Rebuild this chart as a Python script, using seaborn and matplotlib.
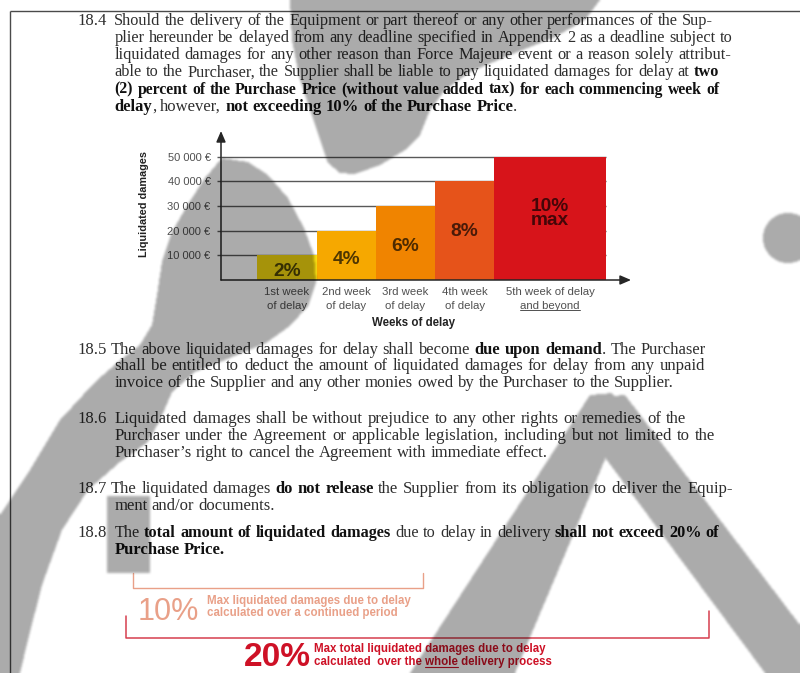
import numpy as np
import pandas as pd
import matplotlib
matplotlib.use("Agg")
import matplotlib.pyplot as plt
from matplotlib.path import Path
import seaborn as sns

# ---------------- chart data ----------------
week_labels = ["1st week\nof delay", "2nd week\nof delay", "3rd week\nof delay",
               "4th week\nof delay", "5th week of delay\nand beyond"]
week_start = [1, 2, 3, 4, 5]
damages = [10000, 20000, 30000, 40000, 50000]
rate_labels = ["2%", "4%", "6%", "8%", "10%\nmax"]
y_ticks = [10000, 20000, 30000, 40000, 50000]
y_tick_labels = ["10 000 €", "20 000 €", "30 000 €", "40 000 €", "50 000 €"]

# ---------------- contract text ----------------
clause_numbers = ["18.4", "18.5", "18.6", "18.7", "18.8"]
clause_lines = [
    ["Should the delivery of the Equipment or part thereof or any other performances of the Sup-",
     "plier hereunder be delayed from any deadline specified in Appendix 2 as a deadline subject to",
     "liquidated damages for any other reason than Force Majeure event or a reason solely attribut-",
     "able to the Purchaser, the Supplier shall be liable to pay liquidated damages for delay at **two**",
     "**(2) percent of the Purchase Price (without value added tax) for each commencing week of**",
     "**delay**, however, **not exceeding 10% of the Purchase Price**."],
    ["The above liquidated damages for delay shall become **due upon demand**. The Purchaser",
     "shall be entitled to deduct the amount of liquidated damages for delay from any unpaid",
     "invoice of the Supplier and any other monies owed by the Purchaser to the Supplier."],
    ["Liquidated damages shall be without prejudice to any other rights or remedies of the",
     "Purchaser under the Agreement or applicable legislation, including but not limited to the",
     "Purchaser\u2019s right to cancel the Agreement with immediate effect."],
    ["The liquidated damages **do not release** the Supplier from its obligation to deliver the Equip-",
     "ment and/or documents."],
    ["The **total amount of liquidated damages** due to delay in delivery **shall not exceed 20% of**",
     "**Purchase Price.**"],
]
cap_10_big = "10%"
cap_10_text = ["Max liquidated damages due to delay", "calculated over a continued period"]
cap_20_big = "20%"
cap_20_text = ["Max total liquidated damages due to delay", "calculated  over the whole delivery process"]

# ---------------- layout & style ----------------
W, H, DPI = 800, 673, 100
bar_colors = ["#F8DC10", "#F6A800", "#F08400", "#E6531A", "#D7141A"]
bin_edges = [1, 2, 3, 4, 5, 6.88]
label_pos = [0.33, 0.42, 0.45, 0.49, 0.54]          # label height as share of bar
# (x start, x end, baseline) in pixels; x end is the natural end for closing lines
clause_layout = [
    [(114.3, 713.0, 24.7), (114.3, 732.7, 41.9), (114.3, 731.7, 59.1),
     (114.3, 719.3, 76.3), (114.3, 719.3, 93.6), (114.3, 499.3, 110.9)],
    [(111.0, 706.0, 353.7), (114.3, 705.0, 370.5), (114.3, 679.0, 387.2)],
    [(115.0, 686.0, 423.0), (114.3, 715.0, 439.8), (114.3, 546.7, 456.6)],
    [(111.0, 732.7, 492.7), (114.3, 283.3, 509.5)],
    [(114.3, 719.3, 537.0), (114.3, 220.7, 553.8)],
]
number_x = 77.3
SERIF = "Liberation Serif"
SANS = "Liberation Sans"
REG_COLOR = "#2e2e2e"
BOLD_COLOR = "#111111"
SALMON = "#E9A088"
CRIMSON = "#D63E4E"
RED = "#CE1126"

# translucent grey stamp shapes laid over the page (pixel outlines)
stamp_polys = [
    [(290, 0), (600, 0), (585, 20), (555, 37), (510, 55), (470, 72), (445, 90),
     (430, 110), (420, 135), (405, 150), (380, 165), (355, 174), (340, 173),
     (328, 163), (320, 140), (312, 115), (300, 80), (292, 40)],
    [(222, 158), (248, 162), (268, 175), (288, 198), (304, 228), (314, 255),
     (316, 282), (308, 306), (290, 326), (266, 343), (225, 360), (195, 372),
     (172, 392), (160, 420), (148, 442), (120, 462), (88, 490), (62, 530),
     (42, 585), (28, 640), (20, 673), (0, 673), (0, 515), (30, 470), (60, 420),
     (95, 382), (118, 362), (140, 345), (152, 325), (157, 295), (162, 262),
     (172, 232), (188, 204), (205, 178)],
    [(107, 496), (150, 496), (150, 573), (107, 573)],
    [(410, 673), (515, 673), (625, 412), (612, 393), (590, 395)],
    [(590, 398), (625, 395), (800, 625), (800, 673), (765, 673), (583, 428)],
]
stamp_dot = (788, 238, 25)

sns.set_theme(style="white")
plt.rcParams["font.family"] = [SANS, "DejaVu Sans"]

fig = plt.figure(figsize=(W / DPI, H / DPI), dpi=DPI)
fig.patch.set_facecolor("white")

# full-page layer in pixel units (y pointing down)
page = fig.add_axes([0, 0, 1, 1])
page.set_xlim(0, W)
page.set_ylim(H, 0)
page.axis("off")
renderer = fig.canvas.get_renderer()

_width_cache = {}


def text_width(s, size, bold=False, family=SERIF):
    key = (s, round(size, 3), bold, family)
    if key not in _width_cache:
        t = page.text(0, 0, s, fontsize=size, family=family,
                      weight="bold" if bold else "normal")
        _width_cache[key] = t.get_window_extent(renderer).width
        t.remove()
    return _width_cache[key]


def parse_words(markup):
    words, bold = [], False
    for raw in markup.split(" "):
        pieces = []
        for i, part in enumerate(raw.split("**")):
            if i > 0:
                bold = not bold
            if part:
                pieces.append((part, bold))
        words.append(pieces)
    return words


def natural_width(markup, size):
    words = parse_words(markup)
    sp = text_width("n n", size) - text_width("nn", size)
    return sum(text_width(p, size, b) for w in words for p, b in w) + sp * (len(words) - 1)


# base body size from the closing (unjustified) lines
ratios = []
for lines, lay in zip(clause_lines, clause_layout):
    x0, x1, _ = lay[-1]
    ratios.append((x1 - x0) / natural_width(lines[-1], 10.0))
body_pt = 10.0 * float(np.median(ratios))


def draw_line(markup, x0, x1, y, justify):
    words = parse_words(markup)
    size = body_pt
    if justify:
        scale = (x1 - x0) / (natural_width(markup, body_pt) * 1.01)
        size = body_pt * min(max(scale, 0.95), 1.05)
    sp = text_width("n n", size) - text_width("nn", size)
    widths = [[text_width(p, size, b) for p, b in w] for w in words]
    total = sum(sum(w) for w in widths)
    gap = (x1 - x0 - total) / (len(words) - 1) if justify and len(words) > 1 else sp
    x = x0
    for w, ws in zip(words, widths):
        for (p, b), pw in zip(w, ws):
            page.text(x, y, p, fontsize=size, family=SERIF,
                      weight="bold" if b else "normal",
                      color=BOLD_COLOR if b else REG_COLOR, va="baseline", ha="left")
            x += pw
        x += gap


for num, lines, lay in zip(clause_numbers, clause_lines, clause_layout):
    page.text(number_x, lay[0][2], num, fontsize=body_pt, family=SERIF,
              color=REG_COLOR, va="baseline", ha="left")
    for i, (markup, (x0, x1, y)) in enumerate(zip(lines, lay)):
        draw_line(markup, x0, x1, y, justify=i < len(lines) - 1)

# page frame
page.plot([10, 10], [11, H], color="#4a4a4a", lw=1.0, solid_capstyle="butt")
page.plot([10, W], [11, 11], color="#4a4a4a", lw=1.0, solid_capstyle="butt")

# ---------------- bar chart ----------------
unit = (494.3 - 257.3) / 4
x_lo = 1 - (257.3 - 221) / unit
x_hi = 1 + (631 - 257.3) / unit
y_hi = (280 - 131) / 24.67 * 10000

ax = fig.add_axes([221 / W, 1 - 280 / H, 410 / W, 149 / H])
ax.patch.set_alpha(0)
df = pd.DataFrame({"week": week_labels, "start": week_start, "damage": damages})
sns.histplot(data=df, x="start", weights="damage", hue="week", hue_order=week_labels,
             palette=dict(zip(week_labels, bar_colors)), bins=bin_edges,
             multiple="layer", alpha=1, linewidth=0, edgecolor="none",
             legend=False, ax=ax, zorder=2)
ax.set_xlim(x_lo, x_hi)
ax.set_ylim(0, y_hi)
for s in ax.spines.values():
    s.set_visible(False)

# horizontal guide lines behind the bars
ax.hlines(y_ticks, xmin=x_lo, xmax=bin_edges[-1], color="#595959", lw=1.0, zorder=1)

ax.set_yticks(y_ticks)
ax.set_yticklabels(y_tick_labels, fontsize=8, color="#505050")
ax.tick_params(axis="y", left=True, length=3.2, width=1.0, color="#595959", pad=4.2)

centers = [(a + b) / 2 for a, b in zip(bin_edges[:-1], bin_edges[1:])]
ax.set_xticks(centers)
ax.set_xticklabels(week_labels, fontsize=8.2, color="#505050", linespacing=1.45)
ax.tick_params(axis="x", bottom=True, length=0, pad=5.0)

ax.set_xlabel("Weeks of delay", fontsize=8.3, weight="bold", color="#222222")
ax.xaxis.set_label_coords((413.5 - 221) / 410, -(322.7 - 280) / 149)
ax.xaxis.label.set_va("center")
ax.set_ylabel("Liquidated damages", fontsize=7.8, weight="bold", color="#222222")
ax.yaxis.set_label_coords((144 - 221) / 410, (280 - 203.5) / 149)
ax.yaxis.label.set_va("center")
ax.yaxis.label.set_ha("center")

# axes drawn as arrows
arrow_kw = dict(arrowstyle="-|>,head_length=0.65,head_width=0.28", color="#262626",
                lw=1.1, shrinkA=0, shrinkB=0, mutation_scale=10)
ax.annotate("", xy=(0, 1), xytext=(0, 0), xycoords="axes fraction",
            arrowprops=arrow_kw, zorder=5)
ax.annotate("", xy=(1, 0), xytext=(0, 0), xycoords="axes fraction",
            arrowprops=arrow_kw, zorder=5)

# rate labels inside the bars
for cx, val, lab, frac in zip(centers, damages, rate_labels, label_pos):
    ax.text(cx, val * frac, lab, ha="center", va="center", fontsize=13.8,
            weight="bold", color="black", alpha=0.68, linespacing=0.8, zorder=4)

# ---------------- bottom caps ----------------
page.plot([133, 133, 422.7, 422.7], [573, 588, 588, 573], color=SALMON, lw=1.0)
page.text(138, 619.7, cap_10_big, fontsize=22, color=SALMON, family=SANS,
          va="baseline", ha="left")
for txt, y in zip(cap_10_text, [604.0, 616.0]):
    page.text(207.3, y, txt, fontsize=8.3, weight="bold", color=SALMON,
              family=SANS, va="baseline", ha="left")

page.plot([126, 126, 709.3, 709.3], [616, 638, 638, 611], color=CRIMSON, lw=1.1)
page.text(244, 666.0, cap_20_big, fontsize=24, weight="bold", color=RED, family=SANS,
          va="baseline", ha="left")
for txt, y in zip(cap_20_text, [652.0, 664.5]):
    page.text(314.3, y, txt, fontsize=8.3, weight="bold", color=RED,
              family=SANS, va="baseline", ha="left")
pre = cap_20_text[1].split("whole")[0]
ux0 = 314.3 + text_width(pre, 8.3, True, SANS)
ux1 = ux0 + text_width("whole", 8.3, True, SANS)
page.plot([ux0, ux1], [666.5, 666.5], color=RED, lw=0.8)

# underline of the last category's second line
fig.canvas.draw()
last = ax.get_xticklabels()[-1]
bb = last.get_window_extent(renderer)
cxp = (bb.x0 + bb.x1) / 2
uw = text_width("and beyond", 8.2, False, SANS)
uy = H - bb.y0 - 0.5
page.plot([cxp - uw / 2, cxp + uw / 2], [uy, uy], color="#505050", lw=0.7)

# ---------------- grey stamp over the whole page ----------------
yy, xx = np.mgrid[0:H, 0:W] + 0.5
pts = np.column_stack([xx.ravel(), yy.ravel()])
mask = np.zeros(H * W, dtype=bool)
for poly in stamp_polys:
    mask |= Path(poly).contains_points(pts)
cx0, cy0, r0 = stamp_dot
mask |= (((xx - cx0) ** 2 + (yy - cy0) ** 2) <= r0 ** 2).ravel()
soft = mask.reshape(H, W).astype(float)
for _ in range(2):
    p = np.pad(soft, 1, mode="edge")
    soft = sum(p[i:i + H, j:j + W] for i in range(3) for j in range(3)) / 9.0
rgba = np.zeros((H, W, 4))
rgba[..., 3] = soft * 0.33

veil = fig.add_axes([0, 0, 1, 1])
veil.imshow(rgba, extent=(0, W, H, 0), interpolation="bilinear", aspect="auto")
veil.set_xlim(0, W)
veil.set_ylim(H, 0)
veil.axis("off")

fig.savefig("out.png", dpi=DPI)
